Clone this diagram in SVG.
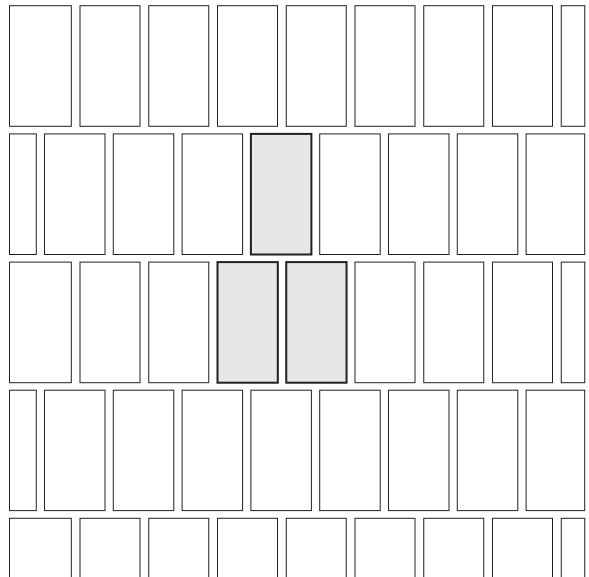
<svg xmlns="http://www.w3.org/2000/svg" width="589" height="577" viewBox="0 0 589 577">
<style>
rect{fill:#fff;stroke:#231f20;stroke-width:1}
rect.hl{fill:#e6e7e8;stroke:#231f20;stroke-width:2}
</style>
<rect x="0" y="0" width="589" height="577" style="fill:#fff;stroke:none"/>
<g id="row1">
<rect x="9.5" y="5.7" width="61.8" height="120.6"/>
<rect x="80" y="5.7" width="60" height="120.6"/>
<rect x="148.75" y="5.7" width="60" height="120.6"/>
<rect x="217.5" y="5.7" width="60" height="120.6"/>
<rect x="286.25" y="5.7" width="60" height="120.6"/>
<rect x="355" y="5.7" width="60" height="120.6"/>
<rect x="423.75" y="5.7" width="60" height="120.6"/>
<rect x="492.5" y="5.7" width="60" height="120.6"/>
<rect x="561.25" y="5.7" width="23.5" height="120.6"/>
</g>
<g id="row2">
<rect x="9.5" y="133.9" width="26.8" height="120.6"/>
<rect x="44.5" y="133.9" width="60.5" height="120.6"/>
<rect x="113.3" y="133.9" width="60.5" height="120.6"/>
<rect x="182.1" y="133.9" width="60.5" height="120.6"/>
<g id="highlight1"><rect class="hl" x="250.9" y="133.9" width="60.5" height="120.6"/></g>
<rect x="319.7" y="133.9" width="60.5" height="120.6"/>
<rect x="388.5" y="133.9" width="60.5" height="120.6"/>
<rect x="457.3" y="133.9" width="60.5" height="120.6"/>
<rect x="526.1" y="133.9" width="58.6" height="120.6"/>
</g>
<g id="row3">
<rect x="9.5" y="262.1" width="61.8" height="120.6"/>
<rect x="80" y="262.1" width="60" height="120.6"/>
<rect x="148.75" y="262.1" width="60" height="120.6"/>
<g id="highlight2"><rect class="hl" x="217.5" y="262.1" width="60.3" height="120.6"/></g>
<g id="highlight3"><rect class="hl" x="286.25" y="262.1" width="60.3" height="120.6"/></g>
<rect x="355" y="262.1" width="60" height="120.6"/>
<rect x="423.75" y="262.1" width="60" height="120.6"/>
<rect x="492.5" y="262.1" width="60" height="120.6"/>
<rect x="561.25" y="262.1" width="23.5" height="120.6"/>
</g>
<g id="row4">
<rect x="9.5" y="390.2" width="26.8" height="120.4"/>
<rect x="44.5" y="390.2" width="60.5" height="120.4"/>
<rect x="113.3" y="390.2" width="60.5" height="120.4"/>
<rect x="182.1" y="390.2" width="60.5" height="120.4"/>
<rect x="250.9" y="390.2" width="60.5" height="120.4"/>
<rect x="319.7" y="390.2" width="60.5" height="120.4"/>
<rect x="388.5" y="390.2" width="60.5" height="120.4"/>
<rect x="457.3" y="390.2" width="60.5" height="120.4"/>
<rect x="526.1" y="390.2" width="58.6" height="120.4"/>
</g>
<g id="row5">
<rect x="9.5" y="518.3" width="61.8" height="120.6"/>
<rect x="80" y="518.3" width="60" height="120.6"/>
<rect x="148.75" y="518.3" width="60" height="120.6"/>
<rect x="217.5" y="518.3" width="60" height="120.6"/>
<rect x="286.25" y="518.3" width="60" height="120.6"/>
<rect x="355" y="518.3" width="60" height="120.6"/>
<rect x="423.75" y="518.3" width="60" height="120.6"/>
<rect x="492.5" y="518.3" width="60" height="120.6"/>
<rect x="561.25" y="518.3" width="23.5" height="120.6"/>
</g>
<g id="connectors"/>
</svg>
